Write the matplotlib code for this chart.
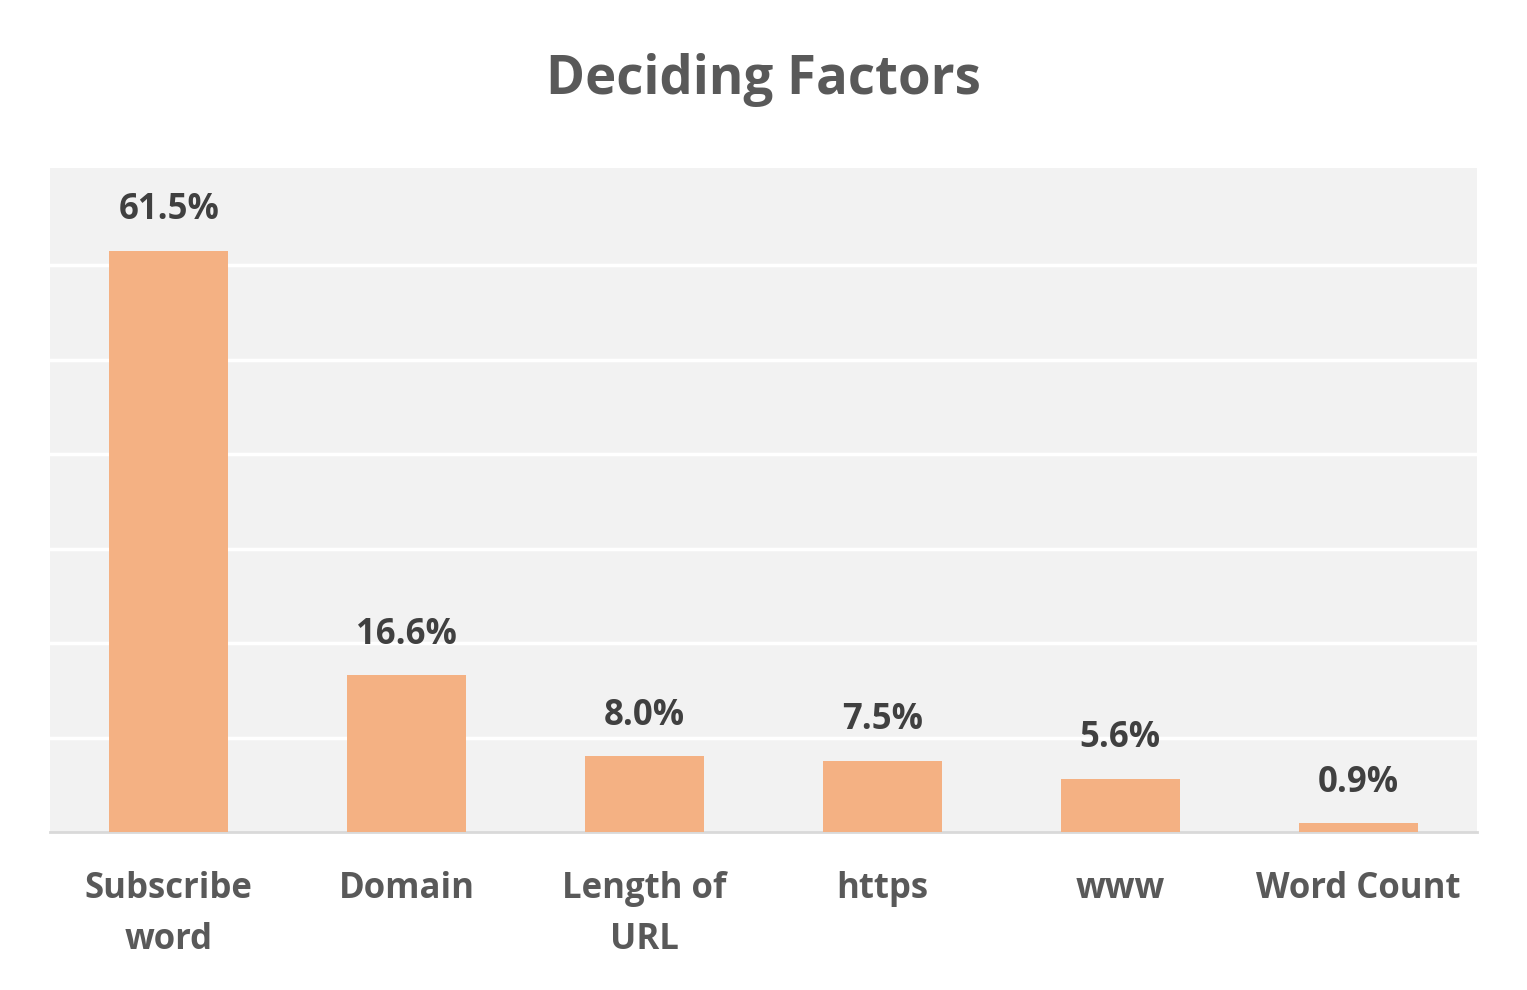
import matplotlib.pyplot as plt
import numpy as np

plt.rcParams['font.family'] = ['Open Sans', 'DejaVu Sans']

# values
factors = ['Subscribe\nword', 'Domain', 'Length of\nURL', 'https', 'www', 'Word Count']
shares = [61.5, 16.6, 8.0, 7.5, 5.6, 0.9]

fig = plt.figure(figsize=(15.27, 9.9), dpi=100)
ax = fig.add_axes([0.0327, 0.1596, 0.9346, 0.6707])
ax.set_facecolor('#F2F2F2')

x = np.arange(len(factors))
bars = ax.bar(x, shares, width=0.5, color='#F4B183', zorder=3)

for b, v in zip(bars, shares):
    ax.text(b.get_x() + b.get_width() / 2, v + 2.4, '%.1f%%' % v,
            ha='center', va='bottom', fontsize=25, fontweight='bold', color='#404040')

ax.set_ylim(0, 70.3)
ax.set_xlim(-0.5, len(factors) - 0.5)
ax.set_yticks(np.arange(10, 70, 10))
ax.yaxis.grid(True, color='white', linewidth=2.5, zorder=1)
ax.tick_params(axis='y', left=False, labelleft=False)
ax.tick_params(axis='x', length=0, pad=28)
ax.set_xticks(x)
ax.set_xticklabels(factors, fontsize=25, fontweight='bold', color='#595959', linespacing=1.55)

for s in ['top', 'left', 'right']:
    ax.spines[s].set_visible(False)
ax.spines['bottom'].set_color('#D9D9D9')
ax.spines['bottom'].set_linewidth(2)

fig.text(0.5, 0.919, 'Deciding Factors', ha='center', va='center',
         fontsize=38, fontweight='bold', color='#595959')

fig.savefig('out.png', dpi=100)
